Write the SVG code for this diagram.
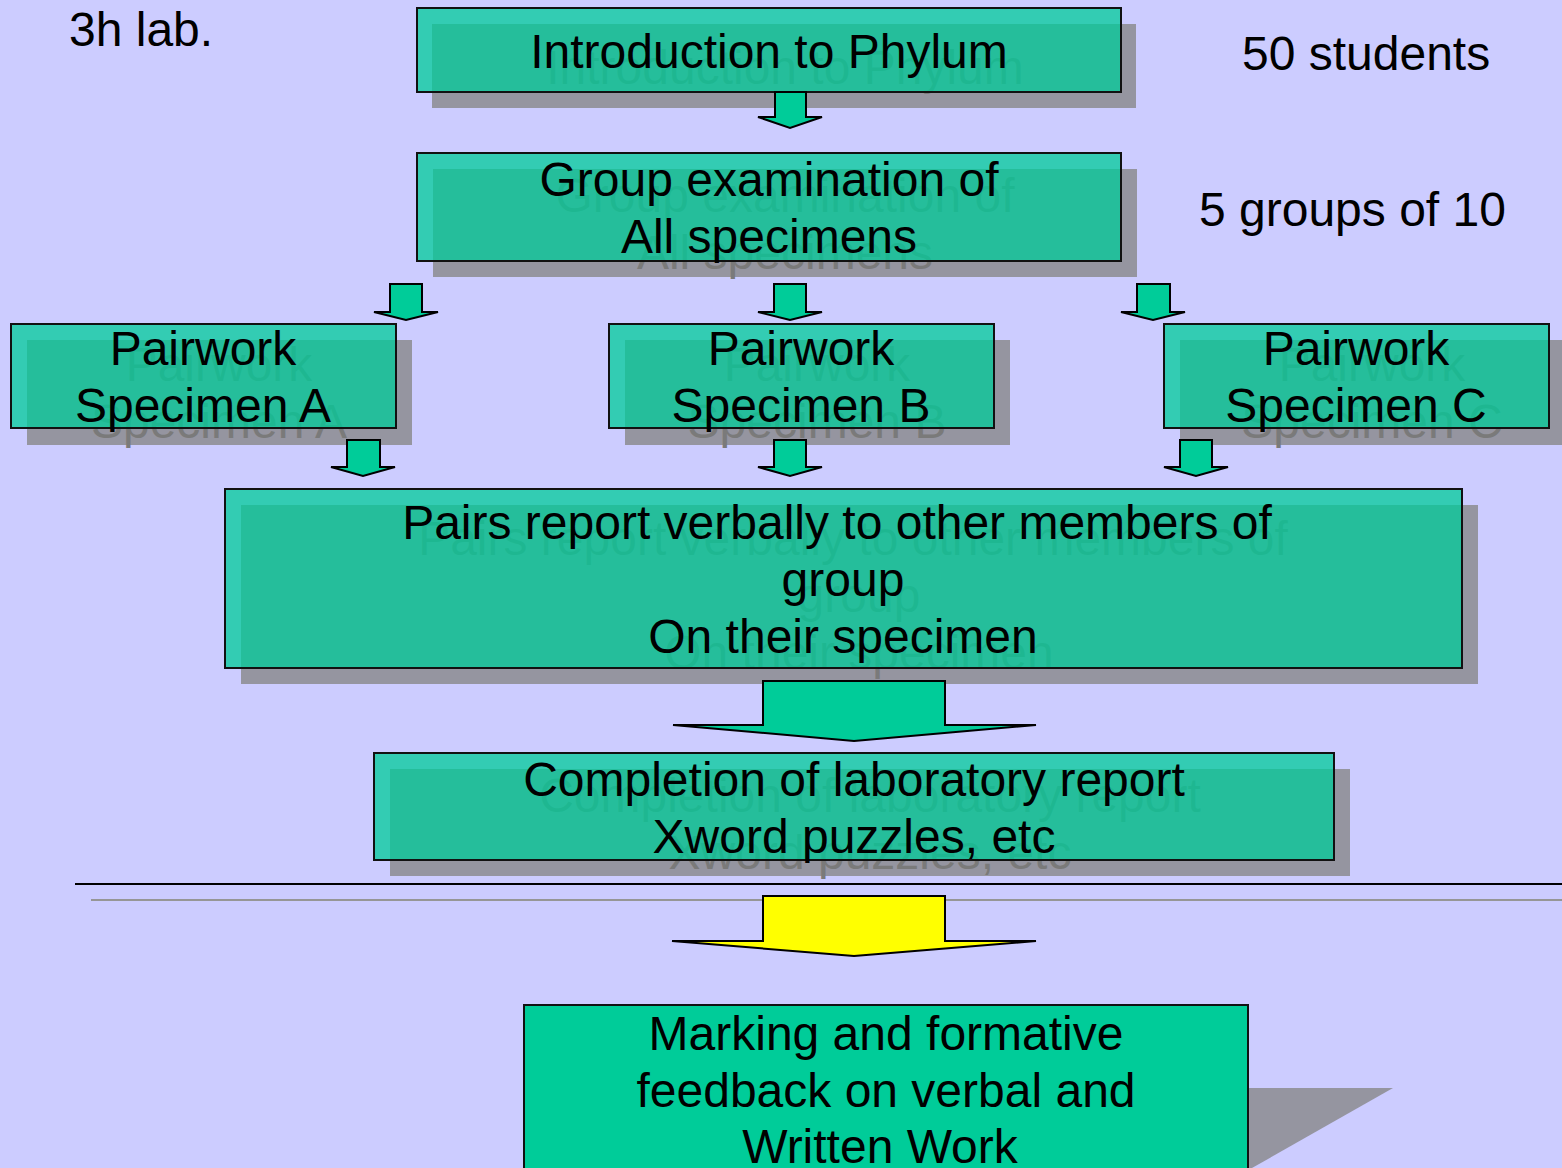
<svg xmlns="http://www.w3.org/2000/svg" width="1562" height="1168" viewBox="0 0 1562 1168">
<style>
text{font-family:"Liberation Sans",Arial,sans-serif;font-size:48px;fill:#000}
.c{text-anchor:middle}
.st{fill:#7a7a7a}
.sh{fill:#9595a0}
.box{fill:#00cc99;fill-opacity:0.75;stroke:#111;stroke-width:2}
.solid{fill:#00cc99;stroke:#111;stroke-width:2}
.arr{fill:#00cc99;stroke:#000;stroke-width:2;stroke-linejoin:miter}
.yarr{fill:#ffff00;stroke:#000;stroke-width:2}
</style>
<rect width="1562" height="1168" fill="#ccccff"/>
<text x="69" y="46">3h lab.</text>
<text x="1242" y="70">50 students</text>
<text x="1199" y="226">5 groups of 10</text>

<g id="intro">
<rect class="sh" x="432" y="24" width="704" height="84"/>
<text class="c st" x="785" y="84">Introduction to Phylum</text>
<rect class="box" x="417" y="8" width="704" height="84"/>
<text class="c" x="769" y="68">Introduction to Phylum</text>
</g>

<g id="group-exam">
<rect class="sh" x="433" y="169" width="704" height="108"/>
<text class="c st" x="785" y="212">Group examination of</text>
<text class="c st" x="785" y="269">All specimens</text>
<rect class="box" x="417" y="153" width="704" height="108"/>
<text class="c" x="769" y="196">Group examination of</text>
<text class="c" x="769" y="253">All specimens</text>
</g>

<g id="pair-a">
<rect class="sh" x="27" y="340" width="385" height="105"/>
<text class="c st" x="219" y="381">Pairwork</text>
<text class="c st" x="219" y="438">Specimen A</text>
<rect class="box" x="11" y="324" width="385" height="104"/>
<text class="c" x="203" y="365">Pairwork</text>
<text class="c" x="203" y="422">Specimen A</text>
</g>

<g id="pair-b">
<rect class="sh" x="625" y="340" width="385" height="105"/>
<text class="c st" x="817" y="381">Pairwork</text>
<text class="c st" x="817" y="438">Specimen B</text>
<rect class="box" x="609" y="324" width="385" height="104"/>
<text class="c" x="801" y="365">Pairwork</text>
<text class="c" x="801" y="422">Specimen B</text>
</g>

<g id="pair-c">
<rect class="sh" x="1180" y="340" width="385" height="105"/>
<text class="c st" x="1372" y="381">Pairwork</text>
<text class="c st" x="1372" y="438">Specimen C</text>
<rect class="box" x="1164" y="324" width="385" height="104"/>
<text class="c" x="1356" y="365">Pairwork</text>
<text class="c" x="1356" y="422">Specimen C</text>
</g>

<g id="report-verbal">
<rect class="sh" x="241" y="505" width="1237" height="179"/>
<text class="c st" x="853" y="555">Pairs report verbally to other members of</text>
<text class="c st" x="859" y="612">group</text>
<text class="c st" x="859" y="669">On their specimen</text>
<rect class="box" x="225" y="489" width="1237" height="179"/>
<text class="c" x="837" y="539">Pairs report verbally to other members of</text>
<text class="c" x="843" y="596">group</text>
<text class="c" x="843" y="653">On their specimen</text>
</g>

<g id="completion">
<rect class="sh" x="390" y="769" width="960" height="107"/>
<text class="c st" x="870" y="812">Completion of laboratory report</text>
<text class="c st" x="870" y="869">Xword puzzles, etc</text>
<rect class="box" x="374" y="753" width="960" height="107"/>
<text class="c" x="854" y="796">Completion of laboratory report</text>
<text class="c" x="854" y="853">Xword puzzles, etc</text>
</g>

<g id="separator">
<line x1="91" y1="900" x2="1562" y2="900" stroke="#969696" stroke-width="2"/>
<line x1="75" y1="884" x2="1562" y2="884" stroke="#000" stroke-width="2"/>
</g>

<g id="marking">
<polygon class="sh" points="1248,1088 1393,1088 1252,1168 1248,1168"/>
<rect class="solid" x="524" y="1005" width="724" height="175"/>
<text class="c" x="886" y="1050">Marking and formative</text>
<text class="c" x="886" y="1107">feedback on verbal and</text>
<text class="c" x="880" y="1163">Written Work</text>
</g>

<g id="connectors">
<polygon class="arr" points="775,92 806,92 806,117 822,117 790,128 758,117 775,117"/>
<polygon class="arr" points="390,284 422,284 422,312 438,312 406,320 374,312 390,312"/>
<polygon class="arr" points="774,284 806,284 806,312 822,312 790,320 758,312 774,312"/>
<polygon class="arr" points="1137,284 1170,284 1170,312 1185,312 1153,320 1121,312 1137,312"/>
<polygon class="arr" points="347,440 380,440 380,467 395,467 363,476 331,467 347,467"/>
<polygon class="arr" points="774,440 806,440 806,467 822,467 790,476 758,467 774,467"/>
<polygon class="arr" points="1180,440 1212,440 1212,467 1228,467 1196,476 1164,467 1180,467"/>
<polygon class="arr" points="763,681 945,681 945,725 1036,725 854,741 673,725 763,725"/>
<polygon class="yarr" points="763,896 945,896 945,941 1036,941 854,956 672,941 763,941"/>
</g>
</svg>
